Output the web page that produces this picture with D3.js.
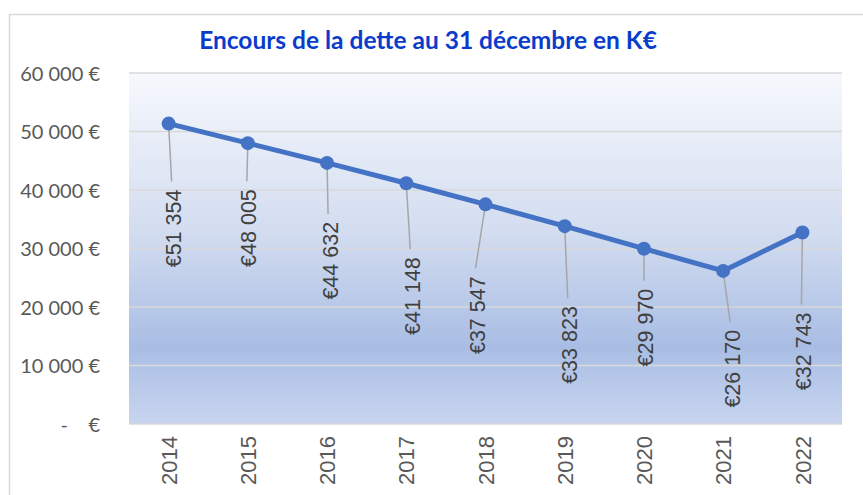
<!DOCTYPE html>
<html>
<head>
<meta charset="utf-8">
<script src="https://cdn.jsdelivr.net/npm/d3@7/dist/d3.min.js"></script>
<style>
  body { margin: 0; background: #fff; }
  .chart svg { display: block; }
</style>
</head>
<body>
<div class="chart"></div>
<script>
// data
var years = ["2014", "2015", "2016", "2017", "2018", "2019", "2020", "2021", "2022"];
var encours = [51354, 48005, 44632, 41148, 37547, 33823, 29970, 26170, 32743];
var yTicks = [0, 10000, 20000, 30000, 40000, 50000, 60000];
var title = "Encours de la dette au 31 décembre en K€";

// hand-placed label offsets (px, from the point), like the dragged labels in the original
var labelDx = [5, 1, 3, 6, -8, 5, 2, 9, 1];
var labelDy = [66, 46, 59, 74, 72, 80, 40, 59, 80];

var svgWidth = 863;
var svgHeight = 495;
var margin = {top: 73, right: 21, bottom: 71, left: 129};
var width = svgWidth - margin.left - margin.right;
var height = svgHeight - margin.top - margin.bottom;

var svg = d3.select(".chart")
    .append("svg")
    .attr("width", svgWidth)
    .attr("height", svgHeight);

// outer chart border
svg.append("path")
    .attr("d", "M9.5," + svgHeight + "V14.5H" + svgWidth)
    .attr("fill", "none")
    .attr("stroke", "#d9d9d9")
    .attr("stroke-width", 1.5);

var defs = svg.append("defs");
var grad = defs.append("linearGradient")
    .attr("id", "bg")
    .attr("x1", 0).attr("y1", 0).attr("x2", 0).attr("y2", 1);
grad.append("stop").attr("offset", "0%").attr("stop-color", "#f6f8fd");
grad.append("stop").attr("offset", "45%").attr("stop-color", "#d3ddf0");
grad.append("stop").attr("offset", "78%").attr("stop-color", "#a9bde4");
grad.append("stop").attr("offset", "100%").attr("stop-color", "#c8d5ef");

var chart = svg.append("g")
    .attr("transform", "translate(" + margin.left + "," + margin.top + ")");

chart.append("rect")
    .attr("width", width)
    .attr("height", height)
    .attr("fill", "url(#bg)");

var x = d3.scalePoint()
    .domain(years)
    .range([0, width])
    .padding(0.5);

var y = d3.scaleLinear()
    .domain([0, 60000])
    .range([height, 0]);

var fmt = function(v) {
    return d3.format(",")(v).replace(/,/g, " ");
};

// gridlines
chart.append("g")
    .selectAll("line")
    .data(yTicks)
    .enter()
    .append("line")
    .attr("x1", 0)
    .attr("x2", width)
    .attr("y1", function(d) { return y(d); })
    .attr("y2", function(d) { return y(d); })
    .attr("stroke", "#d9d9d9")
    .attr("stroke-width", 1.5);

// y axis
var leftAxis = d3.axisLeft(y)
    .tickValues(yTicks)
    .tickSize(0)
    .tickPadding(29)
    .tickFormat(function(d) { return d === 0 ? "-    €" : fmt(d) + " €"; });

var yAxis = chart.append("g").call(leftAxis);
yAxis.select(".domain").remove();
yAxis.selectAll("text")
    .attr("fill", "#595959")
    .style("font-family", "Lato, 'Open Sans', sans-serif")
    .style("font-size", "20px")
    .style("white-space", "pre")
    .attr("dy", "0.35em");

// x axis
var bottomAxis = d3.axisBottom(x).tickSize(0);
var xAxis = chart.append("g")
    .attr("transform", "translate(0," + height + ")")
    .call(bottomAxis);
xAxis.select(".domain").remove();
xAxis.selectAll("text")
    .attr("fill", "#595959")
    .style("font-family", "'Liberation Sans', Arial, sans-serif")
    .style("font-size", "22px")
    .attr("transform", "rotate(-90)")
    .attr("text-anchor", "end")
    .attr("x", -12)
    .attr("y", 0)
    .attr("dy", "0.35em");

// title
svg.append("text")
    .attr("x", 428)
    .attr("y", 49)
    .attr("text-anchor", "middle")
    .attr("fill", "#0a3ccc")
    .style("font-family", "Lato, sans-serif")
    .style("font-weight", "bold")
    .style("font-size", "24.5px")
    .text(title);

// leader lines
chart.append("g")
    .selectAll("line")
    .data(encours)
    .enter()
    .append("line")
    .attr("x1", function(d, i) { return x(years[i]); })
    .attr("y1", function(d) { return y(d); })
    .attr("x2", function(d, i) { return x(years[i]) + labelDx[i] - 2; })
    .attr("y2", function(d, i) { return y(d) + labelDy[i] - 8; })
    .attr("stroke", "#a6a6a6")
    .attr("stroke-width", 1.5);

// line
var line = d3.line()
    .x(function(d, i) { return x(years[i]); })
    .y(function(d) { return y(d); });

chart.append("path")
    .datum(encours)
    .attr("d", line)
    .attr("fill", "none")
    .attr("stroke", "#4472c4")
    .attr("stroke-width", 5)
    .attr("stroke-linejoin", "round");

chart.append("g")
    .selectAll("circle")
    .data(encours)
    .enter()
    .append("circle")
    .attr("cx", function(d, i) { return x(years[i]); })
    .attr("cy", function(d) { return y(d); })
    .attr("r", 7)
    .attr("fill", "#4472c4");

// data labels
chart.append("g")
    .selectAll("text")
    .data(encours)
    .enter()
    .append("text")
    .attr("transform", function(d, i) {
        return "translate(" + (x(years[i]) + labelDx[i]) + "," + (y(d) + labelDy[i]) + ") rotate(-90)";
    })
    .attr("text-anchor", "end")
    .attr("dy", "0.35em")
    .attr("fill", "#404040")
    .style("font-family", "'Liberation Sans', Arial, sans-serif")
    .style("font-size", "21.5px")
    .text(function(d) { return "€" + fmt(d); });
</script>
</body>
</html>
